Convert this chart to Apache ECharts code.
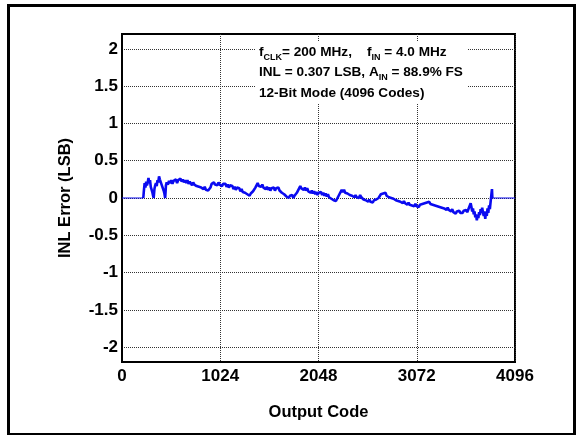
<!DOCTYPE html>
<html>
<head>
<meta charset="utf-8">
<script src="https://cdn.jsdelivr.net/npm/echarts@6/dist/echarts.min.js"></script>
<style>html,body{margin:0;padding:0;background:#fff}#c{width:577px;height:435px}</style>
</head>
<body>
<div id="c"></div>
<script>
const xTicks = [0, 1024, 2048, 3072, 4096];
const yTicks = [-2, -1.5, -1, -0.5, 0, 0.5, 1, 1.5, 2];
const annotationLines = [
  '{n|f}{s|CLK}{n|= 200 MHz,    f}{s|IN}{n| = 4.0 MHz}',
  '{n|INL = 0.307 LSB, A}{s|IN}{n| = 88.9% FS}',
  '{n|12-Bit Mode (4096 Codes)}'
];
// untested codes at both ends, drawn at 0 LSB
const flatLow = [[0, 0], [222, 0]];
const flatHigh = [[3860, 0], [4096, 0]];
// [output code, INL error (LSB)]
const inlCurve = [
[222,0],[228,0.1],[236,0.2],[244,0.14],[252,0.22],[260,0.17],[268,0.21],[276,0.27],[284,0.2],
[292,0.24],[300,0.15],[308,0.17],[316,0.08],[324,0.03],[330,0.0],[338,0.12],[346,0.17],[354,0.2],[362,0.16],
[370,0.24],[378,0.21],[386,0.29],[394,0.25],[402,0.22],[410,0.24],[418,0.16],[426,0.17],[434,0.1],[442,0.06],
[450,0.0],[458,0.17],[466,0.21],[478,0.18],[490,0.23],[502,0.2],[514,0.24],[526,0.19],[538,0.23],[550,0.21],
[562,0.25],[574,0.2],[586,0.24],[598,0.22],[610,0.26],[622,0.22],[634,0.25],[646,0.21],[658,0.24],[670,0.2],
[682,0.24],[694,0.19],[706,0.22],[718,0.2],[730,0.17],[742,0.21],[754,0.18],[766,0.2],[778,0.16],[790,0.18],
[802,0.15],[814,0.17],[826,0.14],[838,0.16],[850,0.12],[862,0.15],[874,0.11],[886,0.13],[898,0.1],[910,0.12],
[922,0.14],[934,0.19],[946,0.17],[958,0.21],[970,0.18],[982,0.2],[994,0.17],[1006,0.21],[1018,0.18],[1030,0.2],
[1042,0.16],[1054,0.19],[1066,0.17],[1078,0.19],[1090,0.15],[1102,0.18],[1114,0.14],[1126,0.17],[1138,0.15],[1150,0.16],
[1162,0.12],[1174,0.15],[1186,0.11],[1198,0.14],[1210,0.12],[1222,0.13],[1234,0.09],[1246,0.12],[1258,0.08],[1270,0.1],
[1282,0.07],[1294,0.09],[1306,0.05],[1318,0.07],[1330,0.03],[1342,0.06],[1354,0.04],[1366,0.09],[1378,0.08],[1390,0.14],
[1402,0.17],[1414,0.2],[1426,0.16],[1438,0.18],[1450,0.15],[1462,0.18],[1474,0.14],[1486,0.16],[1498,0.12],[1510,0.15],
[1522,0.11],[1534,0.14],[1546,0.1],[1558,0.13],[1570,0.11],[1582,0.14],[1594,0.1],[1606,0.13],[1618,0.11],[1630,0.14],
[1642,0.1],[1654,0.11],[1666,0.07],[1678,0.09],[1690,0.05],[1702,0.06],[1714,0.02],[1726,0.04],[1738,0.0],[1750,0.03],
[1762,0.01],[1774,0.04],[1786,0.0],[1798,0.03],[1810,0.02],[1822,0.07],[1834,0.1],[1846,0.13],[1858,0.16],[1870,0.13],
[1882,0.15],[1894,0.11],[1906,0.14],[1918,0.1],[1930,0.13],[1942,0.09],[1954,0.11],[1966,0.07],[1978,0.1],[1990,0.06],
[2002,0.09],[2014,0.05],[2026,0.08],[2038,0.04],[2050,0.07],[2062,0.05],[2074,0.08],[2086,0.04],[2098,0.07],[2110,0.03],
[2122,0.06],[2134,0.02],[2146,0.05],[2158,0.01],[2170,0.03],[2182,-0.01],[2194,0.0],[2206,-0.03],[2218,-0.01],[2230,-0.04],
[2242,-0.02],[2254,0.02],[2266,0.05],[2278,0.07],[2290,0.11],[2302,0.08],[2314,0.11],[2326,0.07],[2338,0.09],[2350,0.06],
[2362,0.08],[2374,0.04],[2386,0.06],[2398,0.03],[2410,0.05],[2422,0.01],[2434,0.04],[2446,0.01],[2458,0.03],[2470,0.0],
[2482,0.04],[2494,0.01],[2506,0.02],[2518,-0.02],[2530,0.0],[2542,-0.03],[2554,-0.01],[2566,-0.05],[2578,-0.02],[2590,-0.05],
[2602,-0.03],[2614,-0.06],[2626,-0.03],[2638,-0.05],[2650,-0.02],[2662,-0.04],[2674,0.0],[2686,0.02],[2698,0.05],[2710,0.03],
[2722,0.06],[2734,0.04],[2746,0.07],[2758,0.03],[2770,0.05],[2782,0.01],[2794,0.03],[2806,0.0],[2818,0.02],[2830,-0.01],
[2842,0.01],[2854,-0.03],[2866,-0.01],[2878,-0.04],[2890,-0.02],[2902,-0.05],[2914,-0.03],[2926,-0.07],[2938,-0.04],[2950,-0.07],
[2962,-0.05],[2974,-0.09],[2986,-0.06],[2998,-0.09],[3010,-0.07],[3022,-0.1],[3034,-0.08],[3046,-0.11],[3058,-0.08],[3070,-0.11],
[3082,-0.09],[3094,-0.12],[3106,-0.09],[3118,-0.11],[3130,-0.08],[3142,-0.1],[3154,-0.07],[3166,-0.09],[3178,-0.06],[3190,-0.08],
[3202,-0.05],[3214,-0.08],[3226,-0.06],[3238,-0.09],[3250,-0.07],[3262,-0.1],[3274,-0.08],[3286,-0.11],[3298,-0.09],[3310,-0.12],
[3322,-0.1],[3334,-0.13],[3346,-0.11],[3358,-0.14],[3370,-0.12],[3382,-0.16],[3394,-0.13],[3406,-0.16],[3418,-0.14],[3430,-0.18],
[3442,-0.15],[3454,-0.19],[3466,-0.17],[3478,-0.21],[3490,-0.18],[3502,-0.2],[3514,-0.17],[3526,-0.2],[3538,-0.18],[3550,-0.2],
[3562,-0.17],[3574,-0.19],[3586,-0.16],[3598,-0.19],[3610,-0.15],[3622,-0.13],[3634,-0.07],[3642,-0.12],[3650,-0.18],[3658,-0.14],
[3666,-0.22],[3674,-0.18],[3682,-0.26],[3690,-0.22],[3698,-0.3],[3706,-0.24],[3714,-0.27],[3722,-0.19],[3730,-0.23],[3738,-0.15],
[3746,-0.2],[3754,-0.13],[3762,-0.19],[3770,-0.24],[3778,-0.18],[3786,-0.28],[3794,-0.2],[3802,-0.24],[3810,-0.14],[3818,-0.2],
[3826,-0.1],[3834,-0.15],[3842,-0.05],[3850,0.05],[3856,0.12],[3860,0.0]
];

const FONT = '"Liberation Sans", Arial, sans-serif';
const BLUE = '#0a0af0';
const chart = echarts.init(document.getElementById('c'), null, {renderer: 'canvas'});
const rich = {
  n: {fontFamily: FONT, fontWeight: 'bold', fontSize: 13.6, color: '#000', height: 17, verticalAlign: 'bottom'},
  s: {fontFamily: FONT, fontWeight: 'bold', fontSize: 9, color: '#000', height: 12, verticalAlign: 'bottom', padding: [0,0,-3,0]}
};
chart.setOption({
  animation: false,
  backgroundColor: '#fff',
  grid: {left: 122, right: 62, top: 34, bottom: 73, show: true, borderColor: '#000', borderWidth: 2, backgroundColor: 'transparent'},
  xAxis: {
    type: 'value', min: 0, max: 4096, interval: 1024,
    name: 'Output Code', nameLocation: 'middle', nameGap: 42,
    nameTextStyle: {fontFamily: FONT, fontWeight: 'bold', fontSize: 16.5, color: '#000'},
    axisLine: {onZero: false, lineStyle: {color: '#000', width: 2}},
    axisTick: {show: false},
    axisLabel: {fontFamily: FONT, fontWeight: 'bold', fontSize: 17, color: '#000', margin: 6,
      customValues: xTicks, formatter: function (v) { return String(v); }},
    splitLine: {show: true, lineStyle: {color: '#333', type: 'dotted', width: 1}}
  },
  yAxis: {
    type: 'value', min: -2.2, max: 2.2,
    name: 'INL Error (LSB)', nameLocation: 'middle', nameGap: 48,
    nameTextStyle: {fontFamily: FONT, fontWeight: 'bold', fontSize: 16.5, color: '#000'},
    axisLine: {onZero: false, lineStyle: {color: '#000', width: 2}},
    axisTick: {show: false, customValues: yTicks},
    axisLabel: {fontFamily: FONT, fontWeight: 'bold', fontSize: 17, color: '#000', margin: 4,
      customValues: yTicks, formatter: function (v) { return String(v); }},
    splitLine: {show: true, lineStyle: {color: '#333', type: 'dotted', width: 1}}
  },
  series: [{
    type: 'line', data: inlCurve, showSymbol: false, symbol: 'none',
    lineStyle: {color: BLUE, width: 2.6}, z: 3, silent: true
  }, {
    type: 'line', data: flatLow, showSymbol: false, symbol: 'none',
    lineStyle: {color: BLUE, width: 1.2}, z: 4, silent: true
  }, {
    type: 'line', data: flatHigh, showSymbol: false, symbol: 'none',
    lineStyle: {color: BLUE, width: 1.2}, z: 4, silent: true
  }],
  graphic: [
    {type: 'rect', left: 6, top: 3, z: 100, shape: {width: 566, height: 429},
     style: {fill: 'none', stroke: '#000', lineWidth: 3}},
    {type: 'rect', left: 256, top: 41, z: 50, shape: {width: 211, height: 62},
     style: {fill: '#fff'}},
    {type: 'text', left: 259, top: 45, z: 60, style: {text: annotationLines[0], rich: rich}},
    {type: 'text', left: 259, top: 65, z: 60, style: {text: annotationLines[1], rich: rich}},
    {type: 'text', left: 259, top: 86, z: 60, style: {text: annotationLines[2], rich: rich}}
  ]
});
</script>
</body>
</html>
